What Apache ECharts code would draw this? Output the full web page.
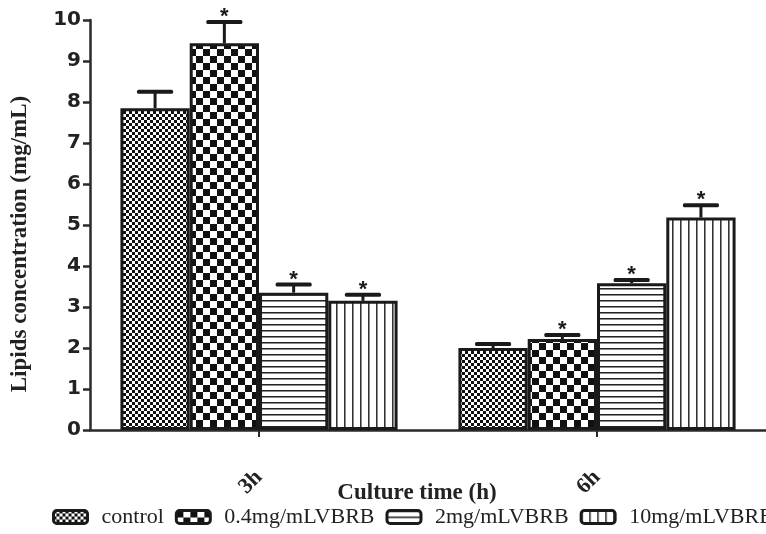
<!DOCTYPE html>
<html>
<head>
<meta charset="utf-8">
<script src="https://cdn.jsdelivr.net/npm/echarts@6/dist/echarts.min.js"></script>
<style>
  html, body { margin: 0; padding: 0; background: #fff; }
  #chart { width: 766px; height: 534px; }
</style>
</head>
<body>
<div id="chart"></div>
<script>
// Culture time groups and treatment groups
const categories = ['3h', '6h'];
const seriesNames = ['control', '0.4mg/mLVBRB', '2mg/mLVBRB', '10mg/mLVBRB'];

// Mean lipid concentration (mg/mL) per group, one value per culture time
const controlMean = [7.85, 2.00];
const lvbrb04Mean = [9.43, 2.22];
const lvbrb2Mean = [3.35, 3.58];
const lvbrb10Mean = [3.15, 5.18];

// Upper error bar lengths (mg/mL)
const controlErr = [0.40, 0.10];
const lvbrb04Err = [0.52, 0.10];
const lvbrb2Err = [0.20, 0.08];
const lvbrb10Err = [0.15, 0.30];

// Significance markers (asterisk above the error bar)
const controlSig = [0, 0];
const lvbrb04Sig = [1, 1];
const lvbrb2Sig = [1, 1];
const lvbrb10Sig = [1, 1];

// Y axis ticks
const yMin = 0;
const yMax = 10;
const yStep = 1;

const means = [controlMean, lvbrb04Mean, lvbrb2Mean, lvbrb10Mean];
const errs = [controlErr, lvbrb04Err, lvbrb2Err, lvbrb10Err];
const sigs = [controlSig, lvbrb04Sig, lvbrb2Sig, lvbrb10Sig];

const BAR_CAT_GAP = 0.18;
const INK = '#1a1a1a';
const SERIF = '"Liberation Serif", "Times New Roman", serif';

// Fill patterns drawn on small canvases
function checker(cell) {
  const c = document.createElement('canvas');
  c.width = c.height = cell * 2;
  const g = c.getContext('2d');
  g.fillStyle = '#fff';
  g.fillRect(0, 0, c.width, c.height);
  g.fillStyle = '#111';
  g.fillRect(0, 0, cell, cell);
  g.fillRect(cell, cell, cell, cell);
  return c;
}
function hLines(period) {
  const c = document.createElement('canvas');
  c.width = 8; c.height = period;
  const g = c.getContext('2d');
  g.fillStyle = '#fff';
  g.fillRect(0, 0, c.width, c.height);
  g.fillStyle = '#222';
  g.fillRect(0, 0, c.width, 1);
  g.fillStyle = '#8a8a8a';
  g.fillRect(0, 1, c.width, 1);
  return c;
}
function vLines(period) {
  const c = document.createElement('canvas');
  c.width = period; c.height = 8;
  const g = c.getContext('2d');
  g.fillStyle = '#fff';
  g.fillRect(0, 0, c.width, c.height);
  g.fillStyle = '#333';
  g.fillRect(0, 0, 1, c.height);
  g.fillStyle = '#888';
  g.fillRect(1, 0, 1, c.height);
  return c;
}

const fills = [
  { image: checker(3), repeat: 'repeat' },
  { image: checker(7), repeat: 'repeat' },
  { image: hLines(6), repeat: 'repeat' },
  { image: vLines(8), repeat: 'repeat' }
];

const barSeries = seriesNames.map((name, k) => ({
  name: name,
  type: 'bar',
  data: means[k],
  barGap: '0%',
  barCategoryGap: (BAR_CAT_GAP * 100) + '%',
  itemStyle: { color: fills[k], borderColor: INK, borderWidth: 3 },
  z: 2
}));

// Error bar items: [category, top value, group index, mean, error, significant]
const errData = [];
means.forEach((arr, k) => {
  arr.forEach((m, i) => {
    errData.push([i, m + errs[k][i], k, m, errs[k][i], sigs[k][i]]);
  });
});

function renderErr(params, api) {
  const cat = api.value(0);
  const k = api.value(2);
  const mean = api.value(3);
  const err = api.value(4);
  const sig = api.value(5);
  const band = api.size([1, 0])[0];
  const barW = band * (1 - BAR_CAT_GAP) / 4;
  const base = api.coord([cat, mean]);
  const top = api.coord([cat, mean + err]);
  const x = base[0] + (k - 1.5) * barW;
  const capHalf = barW * 0.26;
  const children = [
    {
      type: 'line',
      shape: { x1: x, y1: base[1], x2: x, y2: top[1] },
      style: { stroke: INK, lineWidth: 3 }
    },
    {
      type: 'rect',
      shape: { x: x - capHalf, y: top[1] - 2, width: capHalf * 2, height: 4, r: 1.5 },
      style: { fill: INK }
    }
  ];
  if (sig) {
    children.push({
      type: 'text',
      style: {
        text: '*',
        x: x,
        y: top[1] - 5,
        align: 'center',
        verticalAlign: 'middle',
        font: 'bold 22px "Liberation Sans", Arial, sans-serif',
        fill: INK
      }
    });
  }
  return { type: 'group', children: children };
}

const chart = echarts.init(document.getElementById('chart'), null, { renderer: 'canvas' });
chart.setOption({
  animation: false,
  backgroundColor: '#fff',
  grid: { left: 90, right: -1, top: 20, bottom: 104, containLabel: false },
  legend: {
    data: seriesNames,
    left: 52,
    top: 506,
    padding: 0,
    width: 1400,
    itemWidth: 34,
    itemHeight: 13,
    itemGap: 11,
    icon: 'roundRect',
    itemStyle: { borderColor: INK, borderWidth: 3 },
    textStyle: {
      fontFamily: SERIF,
      fontSize: 22,
      color: '#222',
      padding: [0, 0, 0, 9]
    }
  },
  xAxis: {
    type: 'category',
    data: categories,
    name: 'Culture time (h)',
    nameLocation: 'middle',
    nameGap: 52,
    nameMoveOverlap: false,
    nameTextStyle: {
      fontFamily: SERIF,
      fontWeight: 'bold',
      fontSize: 23,
      color: '#222',
      padding: [0, 22, 0, 0]
    },
    axisLine: { show: true, lineStyle: { color: '#2a2a2a', width: 2.5 } },
    axisTick: { show: true, alignWithLabel: true, length: 7, lineStyle: { color: '#2a2a2a', width: 2 } },
    axisLabel: {
      rotate: 45,
      margin: 44,
      fontFamily: SERIF,
      fontWeight: 'bold',
      fontSize: 22,
      color: '#222'
    },
    splitLine: { show: false }
  },
  yAxis: {
    type: 'value',
    min: yMin,
    max: yMax,
    interval: yStep,
    name: 'Lipids concentration (mg/mL)',
    nameLocation: 'middle',
    nameGap: 58,
    nameMoveOverlap: false,
    nameTextStyle: {
      fontFamily: SERIF,
      fontWeight: 'bold',
      fontSize: 23,
      color: '#222',
      padding: [0, 38, 0, 0]
    },
    axisLine: { show: true, lineStyle: { color: '#2a2a2a', width: 2.5 } },
    axisTick: { show: true, length: 7, lineStyle: { color: '#2a2a2a', width: 2.5 } },
    axisLabel: {
      margin: 9,
      fontFamily: '"DejaVu Sans", sans-serif',
      fontWeight: 'bold',
      fontSize: 20,
      color: '#222'
    },
    splitLine: { show: false }
  },
  series: barSeries.concat([{
    name: 'SEM',
    type: 'custom',
    renderItem: renderErr,
    data: errData,
    encode: { x: 0, y: 1 },
    clip: false,
    z: 5
  }])
});
</script>
</body>
</html>
